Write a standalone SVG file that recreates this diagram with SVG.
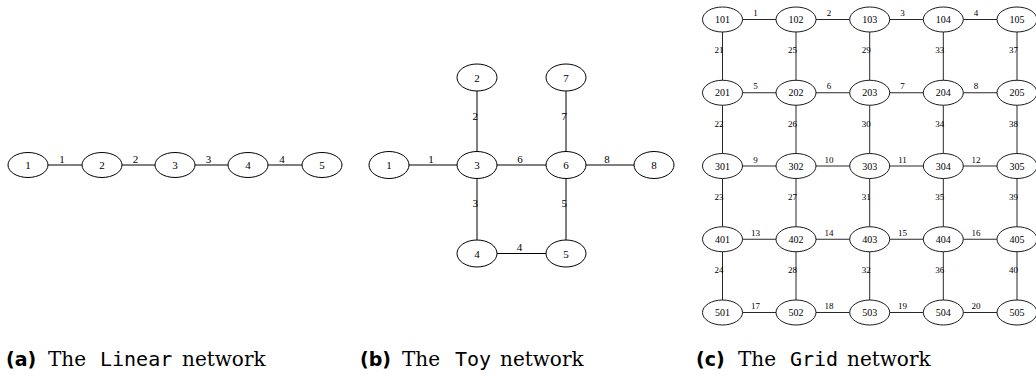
<svg xmlns="http://www.w3.org/2000/svg" width="1036" height="376" viewBox="0 0 1036 376">
<style>
.n ellipse{fill:#fff;stroke:#000;stroke-width:1}
.n text{font-family:"Liberation Serif","Times New Roman",serif;font-size:11px;text-anchor:middle;fill:#000}
.g ellipse{fill:#fff;stroke:#000;stroke-width:0.9}
.g text{font-family:"Liberation Serif","Times New Roman",serif;font-size:10px;text-anchor:middle;fill:#000}
.e line{stroke:#000;stroke-width:1}
.e text{font-family:"Liberation Serif","Times New Roman",serif;font-size:11px;fill:#000}
.ge line{stroke:#000;stroke-width:0.85}
.ge text{font-family:"Liberation Serif","Times New Roman",serif;font-size:9px;fill:#000}
.h{text-anchor:middle}
.v{text-anchor:end}
.cap{font-size:20px;fill:#000}
.cb{font-family:"DejaVu Sans",sans-serif;font-weight:bold;font-size:19px}
.cs{font-family:"DejaVu Serif",serif}
.cm{font-family:"DejaVu Sans Mono",monospace}
</style>

<!-- Linear network -->
<g id="linear-edges" class="e">
<line x1="48" y1="165" x2="82" y2="165"/><text class="h" x="62" y="162.5">1</text>
<line x1="122" y1="165" x2="155" y2="165"/><text class="h" x="135.5" y="162.5">2</text>
<line x1="195" y1="165" x2="228" y2="165"/><text class="h" x="208.5" y="162.5">3</text>
<line x1="268" y1="165" x2="302" y2="165"/><text class="h" x="282" y="162.5">4</text>
</g>
<g id="lin-1" class="n"><ellipse cx="28" cy="165" rx="20" ry="12.5"/><text x="28" y="169">1</text></g>
<g id="lin-2" class="n"><ellipse cx="102" cy="165" rx="20" ry="12.5"/><text x="102" y="169">2</text></g>
<g id="lin-3" class="n"><ellipse cx="175" cy="165" rx="20" ry="12.5"/><text x="175" y="169">3</text></g>
<g id="lin-4" class="n"><ellipse cx="248" cy="165" rx="20" ry="12.5"/><text x="248" y="169">4</text></g>
<g id="lin-5" class="n"><ellipse cx="322" cy="165" rx="20" ry="12.5"/><text x="322" y="169">5</text></g>

<!-- Toy network -->
<g id="toy-edges" class="e">
<line x1="409" y1="165" x2="457" y2="165"/><text class="h" x="431" y="162.5">1</text>
<line x1="477" y1="91" x2="477" y2="151.5"/><text class="v" x="478" y="120">2</text>
<line x1="477" y1="178.5" x2="477" y2="240"/><text class="v" x="478" y="207">3</text>
<line x1="497" y1="253.5" x2="546" y2="253.5"/><text class="h" x="519.5" y="251">4</text>
<line x1="566" y1="178.5" x2="566" y2="240"/><text class="v" x="567" y="207">5</text>
<line x1="497" y1="165" x2="546" y2="165"/><text class="h" x="520" y="162.5">6</text>
<line x1="566" y1="91" x2="566" y2="151.5"/><text class="v" x="567" y="120">7</text>
<line x1="586" y1="165" x2="634" y2="165"/><text class="h" x="607" y="162.5">8</text>
</g>
<g id="toy-1" class="n"><ellipse cx="389" cy="165" rx="20" ry="13.5"/><text x="389" y="169">1</text></g>
<g id="toy-2" class="n"><ellipse cx="477" cy="77.5" rx="20" ry="13.5"/><text x="477" y="81.5">2</text></g>
<g id="toy-3" class="n"><ellipse cx="477" cy="165" rx="20" ry="13.5"/><text x="477" y="169">3</text></g>
<g id="toy-4" class="n"><ellipse cx="477" cy="253.5" rx="20" ry="13.5"/><text x="477" y="257.5">4</text></g>
<g id="toy-5" class="n"><ellipse cx="566" cy="253.5" rx="20" ry="13.5"/><text x="566" y="257.5">5</text></g>
<g id="toy-6" class="n"><ellipse cx="566" cy="165" rx="20" ry="13.5"/><text x="566" y="169">6</text></g>
<g id="toy-7" class="n"><ellipse cx="566" cy="77.5" rx="20" ry="13.5"/><text x="566" y="81.5">7</text></g>
<g id="toy-8" class="n"><ellipse cx="654" cy="165" rx="20" ry="13.5"/><text x="654" y="169">8</text></g>

<!-- Grid network: columns 722.5 796 869.7 943.3 1017 ; rows 19.5 92.75 166 239.25 312.5 -->
<g id="grid-edges" class="ge">
<line x1="742.5" y1="19.5" x2="776" y2="19.5"/><text class="h" x="755.5" y="16">1</text>
<line x1="816" y1="19.5" x2="849.7" y2="19.5"/><text class="h" x="829" y="16">2</text>
<line x1="889.7" y1="19.5" x2="923.3" y2="19.5"/><text class="h" x="902.5" y="16">3</text>
<line x1="963.3" y1="19.5" x2="997" y2="19.5"/><text class="h" x="976" y="16">4</text>
<line x1="742.5" y1="92.75" x2="776" y2="92.75"/><text class="h" x="755.5" y="89.2">5</text>
<line x1="816" y1="92.75" x2="849.7" y2="92.75"/><text class="h" x="829" y="89.2">6</text>
<line x1="889.7" y1="92.75" x2="923.3" y2="92.75"/><text class="h" x="902.5" y="89.2">7</text>
<line x1="963.3" y1="92.75" x2="997" y2="92.75"/><text class="h" x="976" y="89.2">8</text>
<line x1="742.5" y1="166" x2="776" y2="166"/><text class="h" x="755.5" y="162.5">9</text>
<line x1="816" y1="166" x2="849.7" y2="166"/><text class="h" x="829" y="162.5">10</text>
<line x1="889.7" y1="166" x2="923.3" y2="166"/><text class="h" x="902.5" y="162.5">11</text>
<line x1="963.3" y1="166" x2="997" y2="166"/><text class="h" x="976" y="162.5">12</text>
<line x1="742.5" y1="239.25" x2="776" y2="239.25"/><text class="h" x="755.5" y="235.7">13</text>
<line x1="816" y1="239.25" x2="849.7" y2="239.25"/><text class="h" x="829" y="235.7">14</text>
<line x1="889.7" y1="239.25" x2="923.3" y2="239.25"/><text class="h" x="902.5" y="235.7">15</text>
<line x1="963.3" y1="239.25" x2="997" y2="239.25"/><text class="h" x="976" y="235.7">16</text>
<line x1="742.5" y1="312.5" x2="776" y2="312.5"/><text class="h" x="755.5" y="309">17</text>
<line x1="816" y1="312.5" x2="849.7" y2="312.5"/><text class="h" x="829" y="309">18</text>
<line x1="889.7" y1="312.5" x2="923.3" y2="312.5"/><text class="h" x="902.5" y="309">19</text>
<line x1="963.3" y1="312.5" x2="997" y2="312.5"/><text class="h" x="976" y="309">20</text>

<line x1="722.5" y1="32" x2="722.5" y2="80.25"/><text class="v" x="723.5" y="53.3">21</text>
<line x1="722.5" y1="105.25" x2="722.5" y2="153.5"/><text class="v" x="723.5" y="126.6">22</text>
<line x1="722.5" y1="178.5" x2="722.5" y2="226.75"/><text class="v" x="723.5" y="199.9">23</text>
<line x1="722.5" y1="251.75" x2="722.5" y2="300"/><text class="v" x="723.5" y="273.2">24</text>
<line x1="796" y1="32" x2="796" y2="80.25"/><text class="v" x="797" y="53.3">25</text>
<line x1="796" y1="105.25" x2="796" y2="153.5"/><text class="v" x="797" y="126.6">26</text>
<line x1="796" y1="178.5" x2="796" y2="226.75"/><text class="v" x="797" y="199.9">27</text>
<line x1="796" y1="251.75" x2="796" y2="300"/><text class="v" x="797" y="273.2">28</text>
<line x1="869.7" y1="32" x2="869.7" y2="80.25"/><text class="v" x="870.7" y="53.3">29</text>
<line x1="869.7" y1="105.25" x2="869.7" y2="153.5"/><text class="v" x="870.7" y="126.6">30</text>
<line x1="869.7" y1="178.5" x2="869.7" y2="226.75"/><text class="v" x="870.7" y="199.9">31</text>
<line x1="869.7" y1="251.75" x2="869.7" y2="300"/><text class="v" x="870.7" y="273.2">32</text>
<line x1="943.3" y1="32" x2="943.3" y2="80.25"/><text class="v" x="944.3" y="53.3">33</text>
<line x1="943.3" y1="105.25" x2="943.3" y2="153.5"/><text class="v" x="944.3" y="126.6">34</text>
<line x1="943.3" y1="178.5" x2="943.3" y2="226.75"/><text class="v" x="944.3" y="199.9">35</text>
<line x1="943.3" y1="251.75" x2="943.3" y2="300"/><text class="v" x="944.3" y="273.2">36</text>
<line x1="1017" y1="32" x2="1017" y2="80.25"/><text class="v" x="1018" y="53.3">37</text>
<line x1="1017" y1="105.25" x2="1017" y2="153.5"/><text class="v" x="1018" y="126.6">38</text>
<line x1="1017" y1="178.5" x2="1017" y2="226.75"/><text class="v" x="1018" y="199.9">39</text>
<line x1="1017" y1="251.75" x2="1017" y2="300"/><text class="v" x="1018" y="273.2">40</text>
</g>

<g id="g101" class="g"><ellipse cx="722.5" cy="19.5" rx="20" ry="12.5"/><text x="722.5" y="23">101</text></g>
<g id="g102" class="g"><ellipse cx="796" cy="19.5" rx="20" ry="12.5"/><text x="796" y="23">102</text></g>
<g id="g103" class="g"><ellipse cx="869.7" cy="19.5" rx="20" ry="12.5"/><text x="869.7" y="23">103</text></g>
<g id="g104" class="g"><ellipse cx="943.3" cy="19.5" rx="20" ry="12.5"/><text x="943.3" y="23">104</text></g>
<g id="g105" class="g"><ellipse cx="1017" cy="19.5" rx="20" ry="12.5"/><text x="1017" y="23">105</text></g>
<g id="g201" class="g"><ellipse cx="722.5" cy="92.75" rx="20" ry="12.5"/><text x="722.5" y="96.25">201</text></g>
<g id="g202" class="g"><ellipse cx="796" cy="92.75" rx="20" ry="12.5"/><text x="796" y="96.25">202</text></g>
<g id="g203" class="g"><ellipse cx="869.7" cy="92.75" rx="20" ry="12.5"/><text x="869.7" y="96.25">203</text></g>
<g id="g204" class="g"><ellipse cx="943.3" cy="92.75" rx="20" ry="12.5"/><text x="943.3" y="96.25">204</text></g>
<g id="g205" class="g"><ellipse cx="1017" cy="92.75" rx="20" ry="12.5"/><text x="1017" y="96.25">205</text></g>
<g id="g301" class="g"><ellipse cx="722.5" cy="166" rx="20" ry="12.5"/><text x="722.5" y="169.5">301</text></g>
<g id="g302" class="g"><ellipse cx="796" cy="166" rx="20" ry="12.5"/><text x="796" y="169.5">302</text></g>
<g id="g303" class="g"><ellipse cx="869.7" cy="166" rx="20" ry="12.5"/><text x="869.7" y="169.5">303</text></g>
<g id="g304" class="g"><ellipse cx="943.3" cy="166" rx="20" ry="12.5"/><text x="943.3" y="169.5">304</text></g>
<g id="g305" class="g"><ellipse cx="1017" cy="166" rx="20" ry="12.5"/><text x="1017" y="169.5">305</text></g>
<g id="g401" class="g"><ellipse cx="722.5" cy="239.25" rx="20" ry="12.5"/><text x="722.5" y="242.75">401</text></g>
<g id="g402" class="g"><ellipse cx="796" cy="239.25" rx="20" ry="12.5"/><text x="796" y="242.75">402</text></g>
<g id="g403" class="g"><ellipse cx="869.7" cy="239.25" rx="20" ry="12.5"/><text x="869.7" y="242.75">403</text></g>
<g id="g404" class="g"><ellipse cx="943.3" cy="239.25" rx="20" ry="12.5"/><text x="943.3" y="242.75">404</text></g>
<g id="g405" class="g"><ellipse cx="1017" cy="239.25" rx="20" ry="12.5"/><text x="1017" y="242.75">405</text></g>
<g id="g501" class="g"><ellipse cx="722.5" cy="312.5" rx="20" ry="12.5"/><text x="722.5" y="316">501</text></g>
<g id="g502" class="g"><ellipse cx="796" cy="312.5" rx="20" ry="12.5"/><text x="796" y="316">502</text></g>
<g id="g503" class="g"><ellipse cx="869.7" cy="312.5" rx="20" ry="12.5"/><text x="869.7" y="316">503</text></g>
<g id="g504" class="g"><ellipse cx="943.3" cy="312.5" rx="20" ry="12.5"/><text x="943.3" y="316">504</text></g>
<g id="g505" class="g"><ellipse cx="1017" cy="312.5" rx="20" ry="12.5"/><text x="1017" y="316">505</text></g>

<!-- Captions -->
<g id="captions">
<text class="cap" y="366"><tspan class="cb" x="6">(a)</tspan><tspan class="cs" x="48">The</tspan><tspan class="cm" x="100">Linear</tspan><tspan class="cs" x="182">network</tspan></text>
<text class="cap" y="366"><tspan class="cb" x="360">(b)</tspan><tspan class="cs" x="402">The</tspan><tspan class="cm" x="455">Toy</tspan><tspan class="cs" x="500">network</tspan></text>
<text class="cap" y="366"><tspan class="cb" x="696">(c)</tspan><tspan class="cs" x="738">The</tspan><tspan class="cm" x="790">Grid</tspan><tspan class="cs" x="847">network</tspan></text>
</g>
</svg>
